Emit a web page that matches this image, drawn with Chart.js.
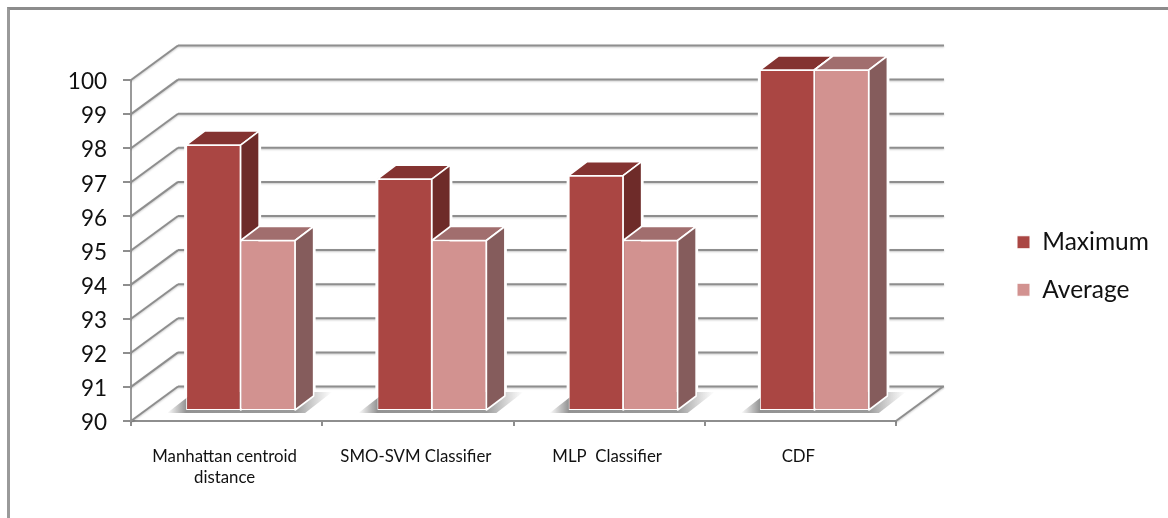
<!DOCTYPE html>
<html>
<head>
<meta charset="utf-8">
<title>Classifier accuracy</title>
<script src="https://cdn.jsdelivr.net/npm/chart.js@4/dist/chart.umd.min.js"></script>
<style>
    html, body { margin: 0; padding: 0; background: #fff; overflow: hidden; }
    #wrap { position: relative; width: 1168px; height: 518px; }
    #frame { position: absolute; left: 7px; top: 7px; right: 0; bottom: 0; border-left: 3px solid #9a9a9a; border-top: 3px solid #8c8c8c; }
    canvas { position: absolute; left: 0; top: 0; display: block; }
</style>
</head>
<body>
<div id="wrap">
    <div id="frame"></div>
    <canvas id="chart_bars" width="1168" height="518"></canvas>
</div>
<script>
const categories = [["Manhattan centroid", "distance"], "SMO-SVM Classifier", "MLP  Classifier", "CDF"];
const maximum = [97.8, 96.8, 96.9, 100];
const average = [95, 95, 95, 100];
const axis_min = 90;
const axis_max = 100;
const axis_step = 1;

const grid_color = "#8e8e8e";

// depth of the walls behind the plot, and of the bars standing on the floor
const wall = { dx: 47, dy: 34.5 };
const bar_offset = { dx: 14, dy: -10 };
const bar_depth = { dx: 18.5, dy: 14 };

const series_faces = [
    { front: "#AA4643", top: "#843331", side: "#6E2B29" },
    { front: "#D29290", top: "#A16E6E", side: "#855C5C" }
];

function line(ctx, x1, y1, x2, y2){
    ctx.beginPath();
    ctx.moveTo(x1, y1);
    ctx.lineTo(x2, y2);
    ctx.stroke();
}

function polygon(ctx, points){
    ctx.beginPath();
    ctx.moveTo(points[0][0], points[0][1]);
    for(let i = 1; i < points.length; i++){
        ctx.lineTo(points[i][0], points[i][1]);
    }
    ctx.closePath();
}

function drawWalls(chart){
    const ctx = chart.ctx;
    const y_scale = chart.scales.y;
    const area = chart.chartArea;

    ctx.save();
    ctx.strokeStyle = grid_color;
    ctx.lineWidth = 2;
    ctx.shadowColor = "rgba(0,0,0,.22)";
    ctx.shadowBlur = 2;
    ctx.shadowOffsetY = 1;
    y_scale.ticks.forEach(function(tick){
        const y = y_scale.getPixelForValue(tick.value);
        line(ctx, area.left, y, area.left + wall.dx, y - wall.dy);
        line(ctx, area.left + wall.dx, y - wall.dy, area.right + wall.dx + 1, y - wall.dy);
    });
    line(ctx, area.right, area.bottom, area.right + wall.dx, area.bottom - wall.dy);
    ctx.restore();
}

// soft shadow lying on the floor round each pair of bars
function drawFloorShadows(chart){
    const ctx = chart.ctx;
    const dark = chart.getDatasetMeta(0).data;
    const light = chart.getDatasetMeta(1).data;

    for(let i = 0; i < dark.length; i++){
        const left = dark[i].x - dark[i].width / 2;
        const right = light[i].x + light[i].width / 2;
        const base = dark[i].base;
        const x0 = left - 19;
        const x1 = right + 37;
        const fill = ctx.createLinearGradient(x0, 0, x1, 0);
        fill.addColorStop(0, "rgba(120,120,120,0)");
        fill.addColorStop((left - x0) / (x1 - x0), "rgba(120,120,120,.8)");
        fill.addColorStop((right - x0) / (x1 - x0), "rgba(130,130,130,.8)");
        fill.addColorStop(1, "rgba(150,150,150,0)");
        ctx.fillStyle = fill;
        polygon(ctx, [[x0, base + 3], [x0 + 27, base - 18], [x1, base - 18], [x1 - 27, base + 3]]);
        ctx.fill();
    }
}

function barFaces(bar){
    const left = bar.x - bar.width / 2;
    const right = bar.x + bar.width / 2;
    return {
        top: [[left, bar.y], [left + bar_depth.dx, bar.y - bar_depth.dy], [right + bar_depth.dx, bar.y - bar_depth.dy], [right, bar.y]],
        side: [[right, bar.y], [right + bar_depth.dx, bar.y - bar_depth.dy], [right + bar_depth.dx, bar.base - bar_depth.dy], [right, bar.base]],
        front: [[left, bar.y], [right, bar.y], [right, bar.base], [left, bar.base]]
    };
}

// white halo keeps the grid lines clear of the bars
function drawBarHalos(chart){
    const ctx = chart.ctx;

    ctx.lineJoin = "round";
    ctx.strokeStyle = "#fff";
    ctx.lineWidth = 4;
    [0, 1].forEach(function(index){
        chart.getDatasetMeta(index).data.forEach(function(bar){
            const faces = barFaces(bar);
            [faces.top, faces.side, faces.front].forEach(function(face){
                polygon(ctx, face);
                ctx.stroke();
            });
        });
    });
}

function drawBarFaces(chart){
    const ctx = chart.ctx;

    ctx.strokeStyle = "#fff";
    ctx.lineWidth = 1.6;
    [0, 1].forEach(function(index){
        const colors = series_faces[index];
        chart.getDatasetMeta(index).data.forEach(function(bar){
            const faces = barFaces(bar);
            polygon(ctx, faces.top);
            ctx.fillStyle = colors.top;
            ctx.fill();
            ctx.stroke();
            polygon(ctx, faces.side);
            ctx.fillStyle = colors.side;
            ctx.fill();
            ctx.stroke();
        });
    });
}

const depth_plugin = {
    id: "depth",
    afterLayout: function(chart){
        // legend sits further out than the space it reserves
        chart.legend.left = 994;
        chart.legend.right = 1168;
        chart.legend.top = 207;
    },
    beforeDatasetsDraw: function(chart){
        drawWalls(chart);
        chart.ctx.save();
        chart.ctx.translate(bar_offset.dx, bar_offset.dy);
        drawBarHalos(chart);
        drawFloorShadows(chart);
        drawBarFaces(chart);
    },
    afterDatasetsDraw: function(chart){
        chart.ctx.restore();
    }
};

Chart.defaults.font.family = "Lato";
Chart.defaults.color = "#111";

const ctx_bars = document.querySelector("#chart_bars").getContext("2d");

const data_bars = {
    labels: categories,
    datasets: [{
        label: "Maximum",
        data: maximum,
        base: axis_min,
        categoryPercentage: 0.57,
        barPercentage: 1,
        backgroundColor: series_faces[0].front,
        borderColor: "#fff",
        borderWidth: 1,
        borderSkipped: false,
        clip: false
    }, {
        label: "Average",
        data: average,
        base: axis_min,
        categoryPercentage: 0.57,
        barPercentage: 1,
        backgroundColor: series_faces[1].front,
        borderColor: "#fff",
        borderWidth: 1,
        borderSkipped: false,
        clip: false
    }]
};

var myBarChart = new Chart(ctx_bars, {
    type: "bar",
    data: data_bars,
    plugins: [depth_plugin],
    options: {
        responsive: false,
        animation: false,
        events: [],
        layout: {
            autoPadding: false,
            padding: { top: 80, right: 172, bottom: 0, left: 0 }
        },
        plugins: {
            tooltip: { enabled: false },
            title: { display: false },
            legend: {
                display: true,
                position: "right",
                align: "start",
                maxWidth: 100,
                labels: {
                    boxWidth: 13,
                    boxHeight: 13,
                    padding: 23,
                    font: { size: 24.5 }
                }
            }
        },
        scales: {
            x: {
                afterFit: function(scale){ scale.height = 97; },
                border: { color: grid_color, width: 2 },
                grid: { color: grid_color, lineWidth: 2, drawOnChartArea: false, drawTicks: true, tickLength: 5 },
                ticks: { font: { size: 16.8, lineHeight: 1.25 }, padding: 20, maxRotation: 0, autoSkip: false, labelOffset: -2 }
            },
            y: {
                min: axis_min,
                max: axis_max,
                afterFit: function(scale){ scale.width = 131; },
                border: { color: "#9a9a9a", width: 2 },
                grid: { color: grid_color, lineWidth: 2, drawOnChartArea: false, drawTicks: true, tickLength: 8 },
                ticks: { stepSize: axis_step, font: { size: 22.5 }, padding: 16, labelOffset: 2 }
            }
        }
    }
});
</script>
</body>
</html>
